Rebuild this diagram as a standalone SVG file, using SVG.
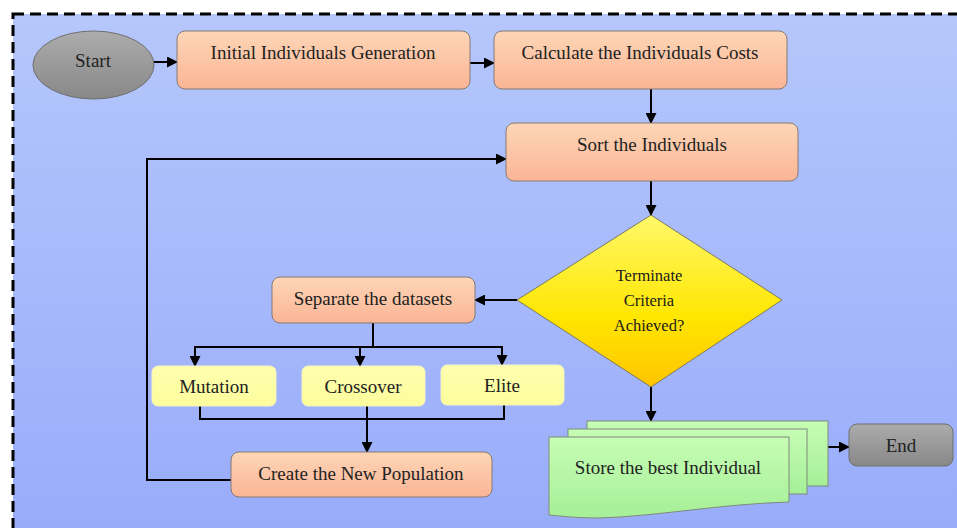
<svg xmlns="http://www.w3.org/2000/svg" width="957" height="528" viewBox="0 0 957 528">
<defs>
<linearGradient id="bg" x1="0" y1="0" x2="0" y2="1"><stop offset="0" stop-color="#b5c7fb"/><stop offset="1" stop-color="#98abfa"/></linearGradient>
<linearGradient id="org" x1="0" y1="0" x2="0" y2="1"><stop offset="0" stop-color="#fdd6b6"/><stop offset="1" stop-color="#fbb596"/></linearGradient>
<linearGradient id="gry" x1="0" y1="0" x2="0" y2="1"><stop offset="0" stop-color="#acacac"/><stop offset="1" stop-color="#888888"/></linearGradient>
<linearGradient id="yel" x1="0" y1="0" x2="0" y2="1"><stop offset="0" stop-color="#fff86a"/><stop offset="0.6" stop-color="#ffe600"/><stop offset="1" stop-color="#ffc400"/></linearGradient>
<linearGradient id="grn" x1="0" y1="0" x2="0" y2="1"><stop offset="0" stop-color="#c6fdb4"/><stop offset="1" stop-color="#a6ef98"/></linearGradient>
<linearGradient id="lyel" x1="0" y1="0" x2="0" y2="1"><stop offset="0" stop-color="#ffffb0"/><stop offset="1" stop-color="#fdfd9c"/></linearGradient>
<marker id="ah" markerWidth="11" markerHeight="11" refX="10" refY="5.5" orient="auto" markerUnits="userSpaceOnUse"><path d="M0,0 L11,5.5 L0,11 z" fill="#000"/></marker>
</defs>
<style>
.t{font-family:"Liberation Serif","Times New Roman","DejaVu Serif",serif;font-size:19px;fill:#222;text-anchor:middle}
.d{font-size:16.5px;fill:#1a1a1a}
.o{fill:url(#org);stroke:#857a74;stroke-width:1}
.y{fill:url(#lyel);stroke:#f4f4c0;stroke-width:1}
.c{fill:none;stroke:#000;stroke-width:2}
.a{marker-end:url(#ah)}
.g{fill:url(#grn);stroke:#7f8a7c;stroke-width:1}
</style>
<rect x="0" y="0" width="957" height="528" fill="#fff"/>
<rect x="13" y="14" width="960" height="530" fill="url(#bg)" stroke="#000" stroke-width="3" stroke-dasharray="11,6"/>

<g id="connectors">
<line class="c a" x1="154" y1="62" x2="177" y2="62"/>
<line class="c a" x1="470" y1="63" x2="494" y2="63"/>
<line class="c a" x1="651" y1="89" x2="651" y2="123"/>
<polyline class="c a" points="232,480 147,480 147,159 506,159"/>
<line class="c a" x1="651" y1="181" x2="651" y2="215"/>
<line class="c a" x1="517" y1="300" x2="475" y2="300"/>
<polyline class="c" points="373,323 373,347"/>
<polyline class="c a" points="373,347 195,347 195,366"/>
<line class="c a" x1="360" y1="347" x2="360" y2="366"/>
<polyline class="c a" points="373,347 502,347 502,365"/>
<polyline class="c" points="200,406 200,419 504,419 504,405"/>
<line class="c a" x1="367" y1="406" x2="367" y2="452"/>
<line class="c a" x1="651" y1="387" x2="651" y2="421"/>
<line class="c a" x1="828" y1="447" x2="849" y2="447"/>
</g>

<g id="start">
<ellipse cx="93.5" cy="65" rx="60.5" ry="34" fill="url(#gry)" stroke="#6e6e6e" stroke-width="1"/>
<text class="t" x="93" y="67">Start</text>
</g>
<g id="init">
<rect class="o" x="177" y="31" width="293" height="58" rx="8"/>
<text class="t" x="323" y="59">Initial Individuals Generation</text>
</g>
<g id="calc">
<rect class="o" x="494" y="31" width="293" height="58" rx="8"/>
<text class="t" x="640" y="59">Calculate the Individuals Costs</text>
</g>
<g id="sort">
<rect class="o" x="506" y="123" width="292" height="58" rx="8"/>
<text class="t" x="652" y="151">Sort the Individuals</text>
</g>
<g id="decision">
<polygon points="651,215 782,300 651,387 517,300" fill="url(#yel)" stroke="#7a7a60" stroke-width="1"/>
<text class="t d" x="649" y="281">Terminate</text>
<text class="t d" x="649" y="306">Criteria</text>
<text class="t d" x="649" y="331">Achieved?</text>
</g>
<g id="separate">
<rect class="o" x="272" y="277" width="203" height="46" rx="8"/>
<text class="t" x="373" y="305">Separate the datasets</text>
</g>
<g id="mutation">
<rect class="y" x="152" y="366" width="124" height="40" rx="6"/>
<text class="t" x="214" y="393">Mutation</text>
</g>
<g id="crossover">
<rect class="y" x="302" y="366" width="123" height="40" rx="6"/>
<text class="t" x="363" y="393">Crossover</text>
</g>
<g id="elite">
<rect class="y" x="441" y="365" width="123" height="40" rx="6"/>
<text class="t" x="502" y="392">Elite</text>
</g>
<g id="create">
<rect class="o" x="231" y="452" width="261" height="45" rx="8"/>
<text class="t" x="361" y="480">Create the New Population</text>
</g>
<g id="store">
<rect class="g" x="587" y="421" width="241" height="65"/>
<rect class="g" x="568" y="429" width="239" height="65"/>
<path class="g" d="M549,437 L789,437 L789,502 C720,504 660,516 600,518 C575,518 560,516 549,515 Z"/>
<text class="t" x="668" y="474">Store the best Individual</text>
</g>
<g id="end">
<rect x="849" y="424" width="104" height="42" rx="8" fill="url(#gry)" stroke="#6e6e6e" stroke-width="1"/>
<text class="t" x="901" y="452">End</text>
</g>
</svg>
